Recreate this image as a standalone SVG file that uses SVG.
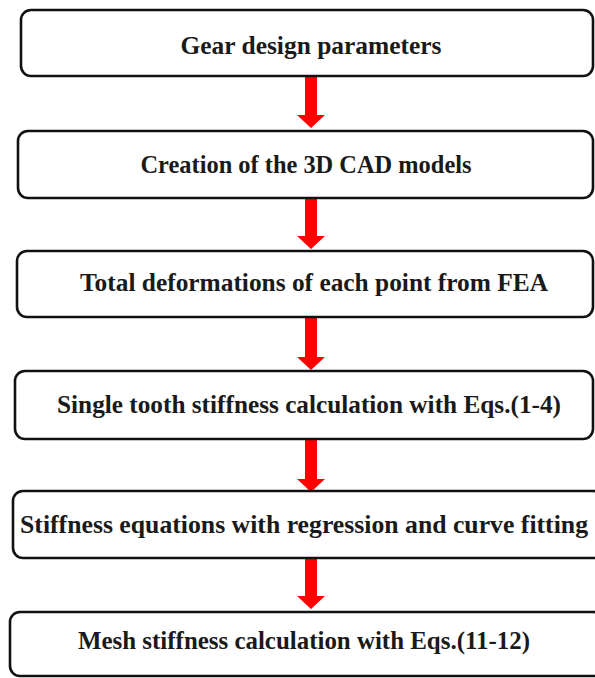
<svg xmlns="http://www.w3.org/2000/svg" width="595" height="678" viewBox="0 0 595 678">
<style>
.box{fill:#ffffff;stroke:#111111;stroke-width:2.6}
.lbl{font-family:'Liberation Serif','Times New Roman',serif;font-weight:bold;font-size:25.5px;fill:#1a1a1a;text-anchor:middle}
.arr{fill:#ff0000}
</style>
<rect width="595" height="678" fill="#ffffff"/>
<g id="connectors">
<path class="arr" d="M305,77 H317 V115 H325 L311,128 L297,115 H305 Z"/>
<path class="arr" d="M305,198 H317 V236 H325 L311,249 L297,236 H305 Z"/>
<path class="arr" d="M305,318 H317 V357 H325 L311,370 L297,357 H305 Z"/>
<path class="arr" d="M305,440 H317 V479 H325 L311,492 L297,479 H305 Z"/>
<path class="arr" d="M305,558 H317 V596 H325 L311,609 L297,596 H305 Z"/>
</g>
<g id="n1"><rect class="box" x="21" y="10" width="572" height="66" rx="10"/><text class="lbl" x="311" y="54" textLength="261" lengthAdjust="spacingAndGlyphs">Gear design parameters</text></g>
<g id="n2"><rect class="box" x="18" y="131" width="575" height="67" rx="10"/><text class="lbl" x="306" y="173" textLength="331" lengthAdjust="spacingAndGlyphs">Creation of the 3D CAD models</text></g>
<g id="n3"><rect class="box" x="17" y="251" width="576" height="66" rx="10"/><text class="lbl" x="314" y="291" textLength="468" lengthAdjust="spacingAndGlyphs">Total deformations of each point from FEA</text></g>
<g id="n4"><rect class="box" x="15" y="371" width="578" height="68" rx="10"/><text class="lbl" x="309" y="413" textLength="504" lengthAdjust="spacingAndGlyphs">Single tooth stiffness calculation with Eqs.(1-4)</text></g>
<g id="n5"><rect class="box" x="13" y="491" width="590" height="67" rx="10"/><text class="lbl" x="304" y="533" textLength="568" lengthAdjust="spacingAndGlyphs">Stiffness equations with regression and curve fitting</text></g>
<g id="n6"><rect class="box" x="10" y="612" width="593" height="64" rx="10"/><text class="lbl" x="304" y="649" textLength="452" lengthAdjust="spacingAndGlyphs">Mesh stiffness calculation with Eqs.(11-12)</text></g>
</svg>
